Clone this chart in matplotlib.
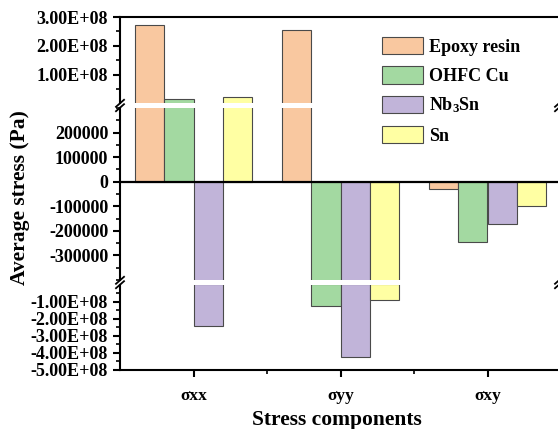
import matplotlib
matplotlib.use("Agg")
import matplotlib.pyplot as plt
import numpy as np
from matplotlib.ticker import MultipleLocator, FixedLocator, FuncFormatter
from matplotlib.lines import Line2D
from matplotlib.patches import Patch

plt.rcParams['font.family'] = ['Liberation Serif', 'DejaVu Serif']
plt.rcParams['font.weight'] = 'bold'
plt.rcParams['mathtext.fontset'] = 'custom'
plt.rcParams['mathtext.rm'] = 'Liberation Serif:bold'
plt.rcParams['mathtext.bf'] = 'Liberation Serif:bold'
plt.rcParams['mathtext.it'] = 'Liberation Serif:bold'

categories = ['σxx', 'σyy', 'σxy']
series = ['Epoxy resin', 'OHFC Cu', 'Nb$_3$Sn', 'Sn']
epoxy = [2.72e8, 2.55e8, -29000]
ohfc_cu = [1.7e7, -1.24e8, -245000]
nb3sn = [-2.41e8, -4.24e8, -171000]
sn = [2.4e7, -0.88e8, -98000]
values = [epoxy, ohfc_cu, nb3sn, sn]
colors = ['#F9C8A0', '#A3D9A1', '#C1B4D9', '#FFFFA3']

W, H = 558, 429
fig = plt.figure(figsize=(W / 100, H / 100), dpi=100)

def fy(px):
    return 1 - px / H

left = 120 / W
width = 441 / W
ax_top = fig.add_axes([left, fy(103), width, 86 / H])
ax_mid = fig.add_axes([left, fy(280), width, 172 / H])
ax_bot = fig.add_axes([left, fy(370), width, 85 / H])
axes = [ax_top, ax_mid, ax_bot]

x = np.arange(len(categories))
bw = 0.2
offsets = [-0.3, -0.1, 0.1, 0.3]
# which bars reach into each segment
selectors = {
    'top': lambda v: v > 5e6,
    'mid': lambda v: True,
    'bot': lambda v: v < -5e6,
}
for ax, key in zip(axes, ['top', 'mid', 'bot']):
    sel = selectors[key]
    for vals, c, off in zip(values, colors, offsets):
        idx = [i for i, v in enumerate(vals) if sel(v)]
        if idx:
            ax.bar(x[idx] + off, [vals[i] for i in idx], width=bw, color=c,
                   edgecolor='#4a4a4a', linewidth=0.8)
    ax.set_xlim(-0.5, 2.5)
    for s in ax.spines.values():
        s.set_linewidth(1.5)
    ax.tick_params(axis='y', which='major', direction='out', length=5, width=1.5, labelsize=13)
    ax.tick_params(axis='y', which='minor', direction='out', length=3, width=1.2)

ax_top.set_ylim(0.03e8, 3e8)
ax_mid.set_ylim(-400000, 300000)
ax_bot.set_ylim(-5e8, -0.03e8)

ax_top.yaxis.set_major_locator(FixedLocator([1e8, 2e8, 3e8]))
ax_top.yaxis.set_minor_locator(MultipleLocator(0.5e8))
ax_top.yaxis.set_major_formatter(FuncFormatter(lambda v, p: '{:.2E}'.format(v)))
ax_mid.yaxis.set_major_locator(FixedLocator([-300000, -200000, -100000, 0, 100000, 200000]))
ax_mid.yaxis.set_minor_locator(MultipleLocator(50000))
ax_mid.yaxis.set_major_formatter(FuncFormatter(lambda v, p: '{:d}'.format(int(round(v)))))
ax_bot.yaxis.set_major_locator(FixedLocator([-5e8, -4e8, -3e8, -2e8, -1e8]))
ax_bot.yaxis.set_minor_locator(MultipleLocator(0.5e8))
ax_bot.yaxis.set_major_formatter(FuncFormatter(lambda v, p: '{:.2E}'.format(v)))

ax_top.spines['bottom'].set_visible(False)
ax_mid.spines['bottom'].set_visible(False)
ax_mid.spines['top'].set_visible(False)
ax_bot.spines['top'].set_visible(False)
for ax in [ax_top, ax_mid]:
    ax.tick_params(axis='x', which='both', bottom=False, labelbottom=False)

ax_mid.axhline(0, color='black', linewidth=1.6)

ax_bot.set_xticks(x)
ax_bot.set_xticklabels(categories, fontsize=12.5, fontweight='bold')
ax_bot.xaxis.set_minor_locator(FixedLocator([0.5, 1.5]))
ax_bot.tick_params(axis='x', which='major', direction='out', length=5, width=1.5, pad=8)
ax_bot.tick_params(axis='x', which='minor', direction='out', length=3, width=1.2)

for lab in ax_top.get_yticklabels() + ax_mid.get_yticklabels() + ax_bot.get_yticklabels():
    lab.set_fontweight('bold')

# break marks
def brk(xpx, ypx):
    for dy in (-2.2, 2.2):
        fig.add_artist(Line2D([(xpx - 4) / W, (xpx + 4) / W],
                              [fy(ypx + dy + 3.5), fy(ypx + dy - 3.5)],
                              transform=fig.transFigure, color='black', linewidth=1.3,
                              clip_on=False))
for ypx in (105.5, 282.5):
    brk(120, ypx)
    brk(559, ypx)

fig.text(20 / W, fy(198), 'Average stress (Pa)', rotation=90, ha='center', va='center',
         fontsize=15.5, fontweight='bold')
fig.text(337 / W, fy(420), 'Stress components', ha='center', va='center',
         fontsize=15.5, fontweight='bold')

handles = [Patch(facecolor=c, edgecolor='#4a4a4a', linewidth=0.8) for c in colors]
fig.legend(handles, series, loc='upper left', bbox_to_anchor=(382 / W, fy(37)),
           frameon=False, borderpad=0, borderaxespad=0, handlelength=2.27, handleheight=1.1,
           labelspacing=0.58, handletextpad=0.35, prop={'size': 13, 'weight': 'bold'})

fig.savefig('out.png', dpi=100)
